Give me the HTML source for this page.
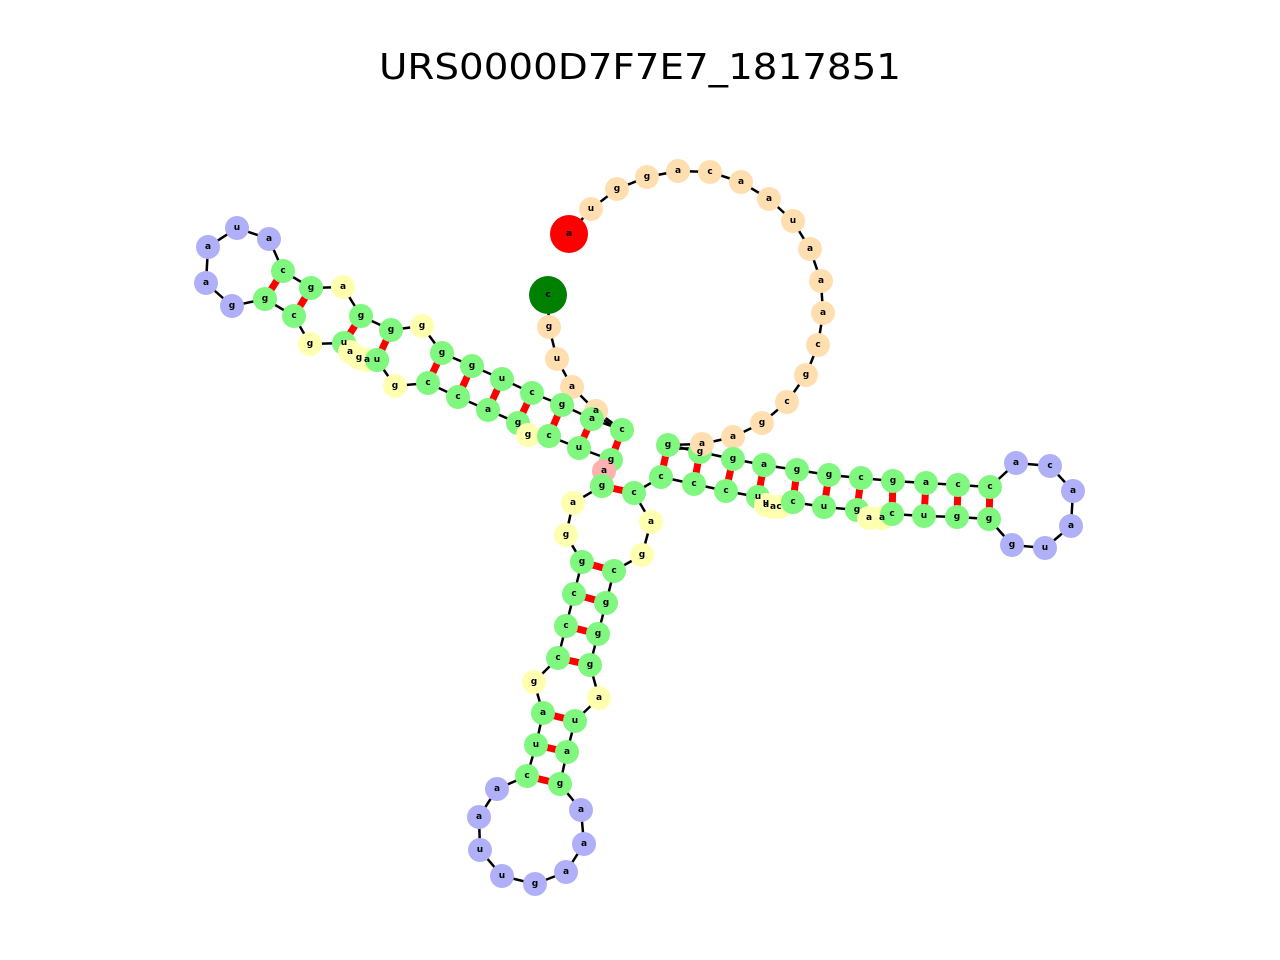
<!DOCTYPE html>
<html><head><meta charset="utf-8"><style>html,body{margin:0;padding:0;background:#fff}svg{display:block}</style></head><body>
<svg width="1280" height="960" viewBox="0 0 1280 960" xmlns="http://www.w3.org/2000/svg">
<text x="640" y="79" text-anchor="middle" font-family="DejaVu Sans, Liberation Sans, sans-serif" font-size="36" textLength="522" lengthAdjust="spacingAndGlyphs">URS0000D7F7E7_1817851</text>
<g stroke="red" stroke-width="7">
<line x1="668" y1="445" x2="661" y2="477"/><line x1="700" y1="452" x2="694" y2="484"/><line x1="733" y1="459" x2="726" y2="491"/><line x1="764" y1="465" x2="758" y2="497"/><line x1="797" y1="470" x2="793" y2="502"/><line x1="829" y1="475" x2="824" y2="507"/><line x1="861" y1="478" x2="857" y2="510"/><line x1="893" y1="481" x2="892" y2="514"/><line x1="926" y1="483" x2="924" y2="516"/><line x1="958" y1="485" x2="957" y2="517"/><line x1="990" y1="487" x2="989" y2="519"/>
<line x1="602" y1="486" x2="634" y2="493"/><line x1="582" y1="562" x2="614" y2="571"/><line x1="574" y1="594" x2="606" y2="603"/><line x1="566" y1="626" x2="598" y2="634"/><line x1="558" y1="658" x2="590" y2="665"/><line x1="543" y1="713" x2="575" y2="721"/><line x1="536" y1="745" x2="567" y2="752"/><line x1="527" y1="776" x2="560" y2="784"/>
<line x1="622" y1="430" x2="611" y2="460"/><line x1="592" y1="419" x2="579" y2="448"/><line x1="562" y1="405" x2="549" y2="436"/><line x1="532" y1="393" x2="518" y2="423"/><line x1="502" y1="379" x2="488" y2="410"/><line x1="472" y1="366" x2="458" y2="397"/><line x1="442" y1="353" x2="428" y2="383"/><line x1="391" y1="330" x2="377" y2="360"/><line x1="361" y1="316" x2="344" y2="343"/><line x1="311" y1="288" x2="294" y2="316"/><line x1="283" y1="271" x2="265" y2="299"/>
</g>
<g fill="none" stroke="#000" stroke-width="2.5">
<polyline points="569,234 591,209 617,189 647,177 678,171 710,172 741,182 769,199 793,221 810,249 821,281 823,313 818,345 806,375 787,402 762,423 733,437 702,444 668,445"/>
<line x1="668" y1="449" x2="702" y2="448"/>
<polyline points="668,445 700,452 733,459 764,465 797,470 829,475 861,478 893,481 926,483 958,485 990,487 1016,463 1050,466 1073,491 1071,526 1045,548 1012,545 989,519 957,517 924,516 892,514 882,518 869,518 857,510 824,507 793,502 779,507 773,507 766,505 758,497 726,491 694,484 661,477 634,493 651,522 642,555 614,571 606,603 598,634 590,665 599,698 575,721 567,752 560,784 581,810 584,844 566,872 535,884 502,876 480,850 479,817 497,789 527,776 536,745 543,713 534,682 558,658 566,626 574,594 582,562 566,535 573,503 602,486 604,471 611,460 579,448 549,436 528,435 518,423 488,410 458,397 428,383 395,386 377,360 367,360 359,358 350,352 344,343 310,344 294,316 265,299 232,306 206,283 208,247 237,228 269,239 283,271 311,288 343,287 361,316 391,330 422,326 442,353 472,366 502,379 532,393 562,405 592,419 622,430"/>
<polyline points="548,295 549,327 557,359 572,387 596,411 622,430"/>
<line x1="598" y1="416" x2="624" y2="434"/>
</g>
<g font-family="DejaVu Sans, Liberation Sans, sans-serif" font-size="9" font-weight="bold" text-anchor="middle" dominant-baseline="central">
<!-- big loop -->
<g fill="#ffdfb0">
<circle cx="591" cy="209" r="12"/><circle cx="617" cy="189" r="12"/><circle cx="647" cy="177" r="12"/><circle cx="678" cy="171" r="12"/><circle cx="710" cy="172" r="12"/><circle cx="741" cy="182" r="12"/><circle cx="769" cy="199" r="12"/><circle cx="793" cy="221" r="12"/><circle cx="810" cy="249" r="12"/><circle cx="821" cy="281" r="12"/><circle cx="823" cy="313" r="12"/><circle cx="818" cy="345" r="12"/><circle cx="806" cy="375" r="12"/><circle cx="787" cy="402" r="12"/><circle cx="762" cy="423" r="12"/><circle cx="733" cy="437" r="12"/>
<circle cx="549" cy="327" r="12"/><circle cx="557" cy="359" r="12"/><circle cx="572" cy="387" r="12"/><circle cx="596" cy="411" r="12"/>
</g>
<g fill="#000">
<text x="591" y="209">u</text><text x="617" y="189">g</text><text x="647" y="177">g</text><text x="678" y="171">a</text><text x="710" y="172">c</text><text x="741" y="182">a</text><text x="769" y="199">a</text><text x="793" y="221">u</text><text x="810" y="249">a</text><text x="821" y="281">a</text><text x="823" y="313">a</text><text x="818" y="345">c</text><text x="806" y="375">g</text><text x="787" y="402">c</text><text x="762" y="423">g</text><text x="733" y="437">a</text>
<text x="549" y="327">g</text><text x="557" y="359">u</text><text x="572" y="387">a</text>
</g>
<circle cx="569" cy="234" r="19" fill="#ff0000"/><text x="569" y="234">a</text>
<circle cx="548" cy="295" r="19" fill="#008000"/><text x="548" y="295">c</text>
<!-- purple loops -->
<g fill="#b0b0f8">
<circle cx="1016" cy="463" r="12"/><circle cx="1050" cy="466" r="12"/><circle cx="1073" cy="491" r="12"/><circle cx="1071" cy="526" r="12"/><circle cx="1045" cy="548" r="12"/><circle cx="1012" cy="545" r="12"/>
<circle cx="581" cy="810" r="12"/><circle cx="584" cy="844" r="12"/><circle cx="566" cy="872" r="12"/><circle cx="535" cy="884" r="12"/><circle cx="502" cy="876" r="12"/><circle cx="480" cy="850" r="12"/><circle cx="479" cy="817" r="12"/><circle cx="497" cy="789" r="12"/>
<circle cx="232" cy="306" r="12"/><circle cx="206" cy="283" r="12"/><circle cx="208" cy="247" r="12"/><circle cx="237" cy="228" r="12"/><circle cx="269" cy="239" r="12"/>
</g>
<text x="1016" y="463">a</text><text x="1050" y="466">c</text><text x="1073" y="491">a</text><text x="1071" y="526">a</text><text x="1045" y="548">u</text><text x="1012" y="545">g</text>
<text x="581" y="810">a</text><text x="584" y="844">a</text><text x="566" y="872">a</text><text x="535" y="884">g</text><text x="502" y="876">u</text><text x="480" y="850">u</text><text x="479" y="817">a</text><text x="497" y="789">a</text>
<text x="232" y="306">g</text><text x="206" y="283">a</text><text x="208" y="247">a</text><text x="237" y="228">u</text><text x="269" y="239">a</text>
<!-- yellow -->
<g fill="#ffffb0">
<circle cx="651" cy="522" r="12"/><circle cx="642" cy="555" r="12"/><circle cx="599" cy="698" r="12"/><circle cx="534" cy="682" r="12"/><circle cx="566" cy="535" r="12"/><circle cx="573" cy="503" r="12"/>
<circle cx="528" cy="435" r="12"/><circle cx="395" cy="386" r="12"/><circle cx="310" cy="344" r="12"/><circle cx="343" cy="287" r="12"/><circle cx="422" cy="326" r="12"/>
</g>
<text x="651" y="522">a</text><text x="642" y="555">g</text><text x="599" y="698">a</text><text x="534" y="682">g</text><text x="566" y="535">g</text><text x="573" y="503">a</text>
<text x="395" y="386">g</text><text x="310" y="344">g</text><text x="343" y="287">a</text><text x="422" y="326">g</text>
<!-- green -->
<g fill="#80f880">
<circle cx="668" cy="445" r="12"/><circle cx="700" cy="452" r="12"/><circle cx="733" cy="459" r="12"/><circle cx="764" cy="465" r="12"/><circle cx="797" cy="470" r="12"/><circle cx="829" cy="475" r="12"/><circle cx="861" cy="478" r="12"/><circle cx="893" cy="481" r="12"/><circle cx="926" cy="483" r="12"/><circle cx="958" cy="485" r="12"/><circle cx="990" cy="487" r="12"/>
<circle cx="989" cy="519" r="12"/><circle cx="957" cy="517" r="12"/><circle cx="924" cy="516" r="12"/><circle cx="892" cy="514" r="12"/><circle cx="857" cy="510" r="12"/><circle cx="824" cy="507" r="12"/><circle cx="793" cy="502" r="12"/><circle cx="758" cy="497" r="12"/><circle cx="726" cy="491" r="12"/><circle cx="694" cy="484" r="12"/><circle cx="661" cy="477" r="12"/><circle cx="634" cy="493" r="12"/>
<circle cx="614" cy="571" r="12"/><circle cx="606" cy="603" r="12"/><circle cx="598" cy="634" r="12"/><circle cx="590" cy="665" r="12"/><circle cx="575" cy="721" r="12"/><circle cx="567" cy="752" r="12"/><circle cx="560" cy="784" r="12"/>
<circle cx="527" cy="776" r="12"/><circle cx="536" cy="745" r="12"/><circle cx="543" cy="713" r="12"/><circle cx="558" cy="658" r="12"/><circle cx="566" cy="626" r="12"/><circle cx="574" cy="594" r="12"/><circle cx="582" cy="562" r="12"/>
<circle cx="611" cy="460" r="12"/><circle cx="579" cy="448" r="12"/><circle cx="549" cy="436" r="12"/><circle cx="518" cy="423" r="12"/><circle cx="488" cy="410" r="12"/><circle cx="458" cy="397" r="12"/><circle cx="428" cy="383" r="12"/><circle cx="377" cy="360" r="12"/><circle cx="344" cy="343" r="12"/><circle cx="294" cy="316" r="12"/><circle cx="265" cy="299" r="12"/>
<circle cx="283" cy="271" r="12"/><circle cx="311" cy="288" r="12"/><circle cx="361" cy="316" r="12"/><circle cx="391" cy="330" r="12"/><circle cx="442" cy="353" r="12"/><circle cx="472" cy="366" r="12"/><circle cx="502" cy="379" r="12"/><circle cx="532" cy="393" r="12"/><circle cx="562" cy="405" r="12"/><circle cx="592" cy="419" r="12"/><circle cx="622" cy="430" r="12"/>
<circle cx="602" cy="486" r="12"/>
</g>
<circle cx="604" cy="471" r="12" fill="#ffb0b0"/>
<circle cx="602" cy="486" r="12" fill="#80f880"/>
<g fill="#ffffb0">
<circle cx="528" cy="435" r="12"/><circle cx="549" cy="436" r="12" fill="#80f880"/>
<circle cx="350" cy="352" r="12"/><circle cx="359" cy="358" r="12"/><circle cx="367" cy="360" r="12"/>
<circle cx="766" cy="505" r="12"/><circle cx="773" cy="507" r="12"/><circle cx="779" cy="507" r="12"/>
<circle cx="869" cy="518" r="12"/><circle cx="882" cy="518" r="12"/>
</g>
<circle cx="377" cy="360" r="12" fill="#80f880"/><circle cx="793" cy="502" r="12" fill="#80f880"/><circle cx="892" cy="514" r="12" fill="#80f880"/>
<circle cx="702" cy="444" r="12" fill="#ffdfb0"/>
<circle cx="596" cy="411" r="12" fill="#ffdfb0"/><circle cx="592" cy="419" r="12" fill="#80f880"/>
<text x="668" y="445">g</text><text x="700" y="452">g</text><text x="702" y="444">a</text><text x="733" y="459">g</text><text x="764" y="465">a</text><text x="797" y="470">g</text><text x="829" y="475">g</text><text x="861" y="478">c</text><text x="893" y="481">g</text><text x="926" y="483">a</text><text x="958" y="485">c</text><text x="990" y="487">c</text>
<text x="989" y="519">g</text><text x="957" y="517">g</text><text x="924" y="516">u</text><text x="892" y="514">c</text><text x="869" y="518">a</text><text x="882" y="518">a</text><text x="857" y="510">g</text><text x="824" y="507">u</text><text x="793" y="502">c</text><text x="779" y="507">c</text><text x="773" y="507">a</text><text x="766" y="505">a</text><text x="766" y="503">u</text><text x="758" y="497">u</text><text x="726" y="491">c</text><text x="694" y="484">c</text><text x="661" y="477">c</text><text x="634" y="493">c</text>
<text x="614" y="571">c</text><text x="606" y="603">g</text><text x="598" y="634">g</text><text x="590" y="665">g</text><text x="575" y="721">u</text><text x="567" y="752">a</text><text x="560" y="784">g</text>
<text x="527" y="776">c</text><text x="536" y="745">u</text><text x="543" y="713">a</text><text x="558" y="658">c</text><text x="566" y="626">c</text><text x="574" y="594">c</text><text x="582" y="562">g</text>
<text x="611" y="460">g</text><text x="604" y="471">a</text><text x="602" y="486">g</text><text x="579" y="448">u</text><text x="549" y="436">c</text><text x="528" y="435">g</text><text x="518" y="423">g</text><text x="488" y="410">a</text><text x="458" y="397">c</text><text x="428" y="383">c</text><text x="377" y="360">u</text><text x="367" y="360">a</text><text x="359" y="358">g</text><text x="350" y="352">a</text><text x="344" y="343">u</text><text x="294" y="316">c</text><text x="265" y="299">g</text>
<text x="283" y="271">c</text><text x="311" y="288">g</text><text x="361" y="316">g</text><text x="391" y="330">g</text><text x="442" y="353">g</text><text x="472" y="366">g</text><text x="502" y="379">u</text><text x="532" y="393">c</text><text x="562" y="405">g</text><text x="592" y="419">a</text><text x="596" y="411">a</text><text x="622" y="430">c</text>
</g>
</svg>
</body></html>
